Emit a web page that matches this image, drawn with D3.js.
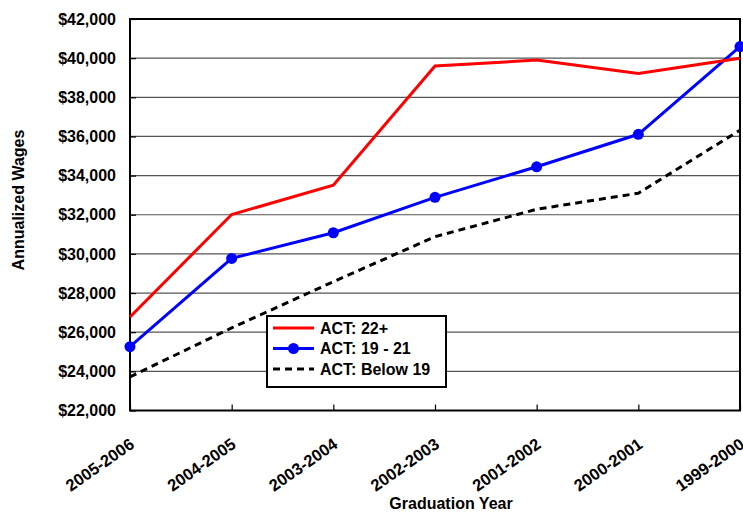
<!DOCTYPE html>
<meta charset="utf-8">
<style>
body { margin: 0; background: #fff; }
text { font-family: Arial, "Liberation Sans", sans-serif; font-weight: bold; }
</style>
<svg width="743" height="515"></svg>
<script src="https://cdn.jsdelivr.net/npm/d3@7"></script>
<script>
var years = ["2005-2006", "2004-2005", "2003-2004", "2002-2003", "2001-2002", "2000-2001", "1999-2000"]
var act22 = [26780, 32010, 33510, 39600, 39900, 39220, 39990]
var act19 = [25260, 29770, 31080, 32890, 34450, 36110, 40590]
var actBelow = [23720, 26220, 28580, 30880, 32280, 33100, 36320]
var yTicks = [22000, 24000, 26000, 28000, 30000, 32000, 34000, 36000, 38000, 40000, 42000]

var svg = d3.select("svg")
var pLeft = 130, pRight = 740, pTop = 19, pBottom = 410.5

var x = d3.scalePoint().domain(years).range([pLeft, pRight])
var y = d3.scaleLinear().domain([22000, 42000]).range([pBottom, pTop])
var fmt = function(v){ return "$" + d3.format(",")(v) }

// gridlines
svg.append("g")
  .selectAll("line")
  .data(yTicks.slice(1, -1))
  .enter().append("line")
    .attr("x1", pLeft).attr("x2", pRight)
    .attr("y1", y).attr("y2", y)
    .attr("stroke", "#555")
    .attr("stroke-width", 1.2)

// y axis
var yAxis = svg.append("g")
  .attr("transform", "translate(" + pLeft + ",0)")
  .call(d3.axisLeft(y).tickValues(yTicks).tickFormat(fmt).tickSize(-6).tickPadding(14))
yAxis.select(".domain").remove()
yAxis.selectAll("line").attr("stroke", "#000").attr("stroke-width", 1.2)
yAxis.selectAll("text").attr("font-size", 16).attr("fill", "#000")

// x axis
var xAxis = svg.append("g")
  .attr("transform", "translate(0," + pBottom + ")")
  .call(d3.axisBottom(x).tickSize(-6).tickPadding(8))
xAxis.select(".domain").remove()
xAxis.selectAll("line").attr("stroke", "#000").attr("stroke-width", 1.2)
xAxis.selectAll("text")
  .attr("font-size", 16.5)
  .attr("fill", "#000")
  .attr("text-anchor", "end")
  .attr("dy", "0.35em")
  .attr("transform", "translate(-3,25) rotate(-35)")

// frame
svg.append("rect")
  .attr("x", pLeft).attr("y", pTop)
  .attr("width", pRight - pLeft).attr("height", pBottom - pTop)
  .attr("fill", "none")
  .attr("stroke", "#000")
  .attr("stroke-width", 2)

var line = d3.line()
  .x(function(d, i){ return x(years[i]) })
  .y(function(d){ return y(d) })

svg.append("path")
  .attr("d", line(actBelow))
  .attr("fill", "none")
  .attr("stroke", "#000")
  .attr("stroke-width", 3)
  .attr("stroke-dasharray", "7,5")

svg.append("path")
  .attr("d", line(act19))
  .attr("fill", "none")
  .attr("stroke", "#0000ff")
  .attr("stroke-width", 3)

svg.append("g")
  .selectAll("circle")
  .data(act19)
  .enter().append("circle")
    .attr("cx", function(d, i){ return x(years[i]) })
    .attr("cy", y)
    .attr("r", 5.5)
    .attr("fill", "#0000ff")

svg.append("path")
  .attr("d", line(act22))
  .attr("fill", "none")
  .attr("stroke", "#ff0000")
  .attr("stroke-width", 3)

// legend
var lg = svg.append("g").attr("transform", "translate(267,316)")
lg.append("rect")
  .attr("width", 179).attr("height", 71)
  .attr("fill", "#fff")
  .attr("stroke", "#000")
  .attr("stroke-width", 2)

var items = [
  {name: "ACT: 22+", color: "#ff0000", dash: null, dot: false},
  {name: "ACT: 19 - 21", color: "#0000ff", dash: null, dot: true},
  {name: "ACT: Below 19", color: "#000", dash: "7,5", dot: false}
]
items.forEach(function(it, i){
  var yy = 12 + i * 20.5
  lg.append("line")
    .attr("x1", 6).attr("x2", 47)
    .attr("y1", yy).attr("y2", yy)
    .attr("stroke", it.color)
    .attr("stroke-width", 3)
    .attr("stroke-dasharray", it.dash)
  if(it.dot)
    lg.append("circle").attr("cx", 26.5).attr("cy", yy).attr("r", 5.5).attr("fill", it.color)
  lg.append("text")
    .attr("x", 53).attr("y", yy)
    .attr("dy", "0.35em")
    .attr("font-size", 16)
    .text(it.name)
})

// axis titles
svg.append("text")
  .attr("transform", "translate(24,200) rotate(-90)")
  .attr("text-anchor", "middle")
  .attr("font-size", 16)
  .text("Annualized Wages")

svg.append("text")
  .attr("x", 451)
  .attr("y", 509)
  .attr("text-anchor", "middle")
  .attr("font-size", 16)
  .text("Graduation Year")
</script>
